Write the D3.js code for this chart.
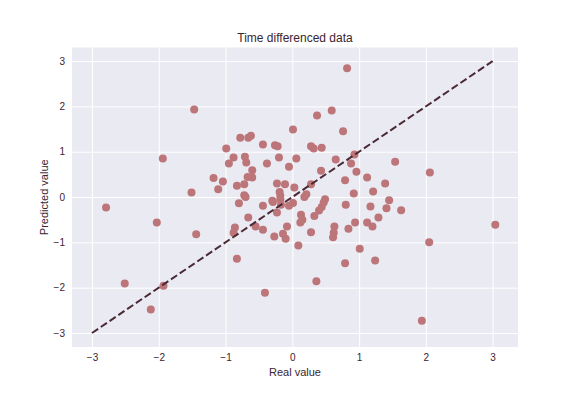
<!DOCTYPE html>
<html>
<head>
<meta charset="utf-8">
<script src="https://cdn.jsdelivr.net/npm/d3@7"></script>
<style>
  body { margin: 0; background: #fff; }
  svg { display: block; font-family: "Liberation Sans", Arial, sans-serif; }
</style>
</head>
<body>
<div id="chart"></div>
<script>
// values
const realValues = [
  -1.47, -1.94, -1.51, -0.99, -0.78, -0.66, -0.62, -0.88, -0.95, -0.71,
  -0.69, -0.60, -1.18, -1.04, -1.11, -0.83, -0.72, -0.67, -0.60, -0.72,
  -0.70, 0.82, 0.59, 0.37, 0.01, 0.76, -0.44, -0.26, -0.22, 0.28,
  0.32, 0.44, -0.20, 0.06, 0.65, -0.38, 0.93, 1.54, -0.05, 0.88,
  0.96, 0.43, -0.23, -0.11, 0.03, 1.12, 0.79, 1.39, 0.28, 1.21,
  0.92, -0.19, -0.18, -0.18, -0.17, 0.21, 0.18, 0.49, 1.45, -0.30,
  2.06, -2.79, -2.03, -1.44, -2.51, -1.93, -2.12, -0.83, -0.86, -0.88,
  -0.66, -0.55, -0.80, -0.44, -0.23, -0.05, 0.01, -0.44, -0.27, -0.14,
  -0.10, -0.08, 0.09, 0.13, 0.15, 0.12, 0.33, 0.28, 0.40, 0.44,
  0.47, 0.36, -0.41, 0.63, 0.62, 0.61, 0.84, 0.94, 0.80, 0.79,
  1.01, 1.12, 1.20, 1.17, 1.29, 1.24, 1.41, 1.63, 3.04, 2.05,
  1.94, -0.29
];
const predictedValues = [
  1.93, 0.85, 0.10, 1.07, 1.31, 1.31, 1.35, 0.87, 0.74, 0.89,
  0.76, 0.59, 0.42, 0.34, 0.17, 0.25, 0.28, 0.44, 0.43, 0.04,
  0.00, 2.84, 1.91, 1.80, 1.49, 1.45, 1.16, 1.14, 1.12, 1.12,
  1.07, 1.09, 0.87, 0.85, 0.83, 0.74, 0.94, 0.78, 0.67, 0.74,
  0.56, 0.58, 0.30, 0.28, 0.21, 0.43, 0.37, 0.30, 0.28, 0.12,
  0.08, 0.11, 0.03, -0.05, -0.17, 0.06, 0.00, -0.05, -0.07, -0.08,
  0.54, -0.23, -0.56, -0.82, -1.91, -1.96, -2.48, -1.36, -0.67, -0.79,
  -0.45, -0.65, -0.14, -0.19, -0.34, -0.19, -0.13, -0.72, -0.87, -0.81,
  -0.92, -0.65, -1.07, -0.39, -0.50, -0.56, -0.42, -0.78, -0.30, -0.22,
  -0.12, -1.86, -2.11, -0.65, -0.79, -0.89, -0.70, -0.56, -0.17, -1.46,
  -1.14, -0.56, -0.65, -0.21, -0.45, -1.40, -0.25, -0.29, -0.61, -1.00,
  -2.73, -0.11
];
const tickValues = [-3, -2, -1, 0, 1, 2, 3];
const diagonal = [-3, 3];

const width = 576;
const height = 396;
const margin = { top: 47.5, right: 58, bottom: 49, left: 72 };

const textColor = "#3b2430";

const svg = d3.select("#chart")
  .append("svg")
  .attr("width", width)
  .attr("height", height);

const x = d3.scaleLinear()
  .domain([-3.30, 3.38])
  .range([margin.left, width - margin.right]);

const y = d3.scaleLinear()
  .domain([-3.31, 3.30])
  .range([height - margin.bottom, margin.top]);

// plot background
svg.append("rect")
  .attr("x", margin.left)
  .attr("y", margin.top)
  .attr("width", width - margin.left - margin.right)
  .attr("height", height - margin.top - margin.bottom)
  .attr("fill", "#eaeaf2");

const fmt = d => (d < 0 ? "\u2212" + Math.abs(d) : "" + d);

// x axis with grid
const xAxis = svg.append("g")
  .attr("transform", `translate(0,${height - margin.bottom})`)
  .call(d3.axisBottom(x).tickValues(tickValues).tickFormat(fmt)
    .tickSize(-(height - margin.top - margin.bottom)).tickPadding(7));
xAxis.select(".domain").remove();
xAxis.selectAll("line").attr("stroke", "#fff").attr("stroke-width", 1);
xAxis.selectAll("text")
  .attr("fill", textColor)
  .style("font-size", "10px");

// y axis with grid
const yAxis = svg.append("g")
  .attr("transform", `translate(${margin.left},0)`)
  .call(d3.axisLeft(y).tickValues(tickValues).tickFormat(fmt)
    .tickSize(-(width - margin.left - margin.right)).tickPadding(7));
yAxis.select(".domain").remove();
yAxis.selectAll("line").attr("stroke", "#fff").attr("stroke-width", 1);
yAxis.selectAll("text")
  .attr("fill", textColor)
  .style("font-size", "10px");

// scatter points
svg.append("g")
  .selectAll("circle")
  .data(d3.zip(realValues, predictedValues))
  .enter()
  .append("circle")
  .attr("cx", d => x(d[0]))
  .attr("cy", d => y(d[1]))
  .attr("r", 4)
  .attr("fill", "#bc7579");

// identity line
svg.append("line")
  .attr("x1", x(diagonal[0]))
  .attr("y1", y(diagonal[0]))
  .attr("x2", x(diagonal[1]))
  .attr("y2", y(diagonal[1]))
  .attr("stroke", "#4a2a35")
  .attr("stroke-width", 2)
  .attr("stroke-dasharray", "7.4,3.2");

// title and labels
svg.append("text")
  .attr("x", (margin.left + width - margin.right) / 2)
  .attr("y", 41.5)
  .attr("text-anchor", "middle")
  .attr("fill", textColor)
  .style("font-size", "12px")
  .text("Time differenced data");

svg.append("text")
  .attr("x", (margin.left + width - margin.right) / 2)
  .attr("y", 376)
  .attr("text-anchor", "middle")
  .attr("fill", textColor)
  .style("font-size", "11px")
  .text("Real value");

svg.append("text")
  .attr("transform", `translate(48,${(margin.top + height - margin.bottom) / 2}) rotate(-90)`)
  .attr("text-anchor", "middle")
  .attr("fill", textColor)
  .style("font-size", "11px")
  .text("Predicted value");
</script>
</body>
</html>
